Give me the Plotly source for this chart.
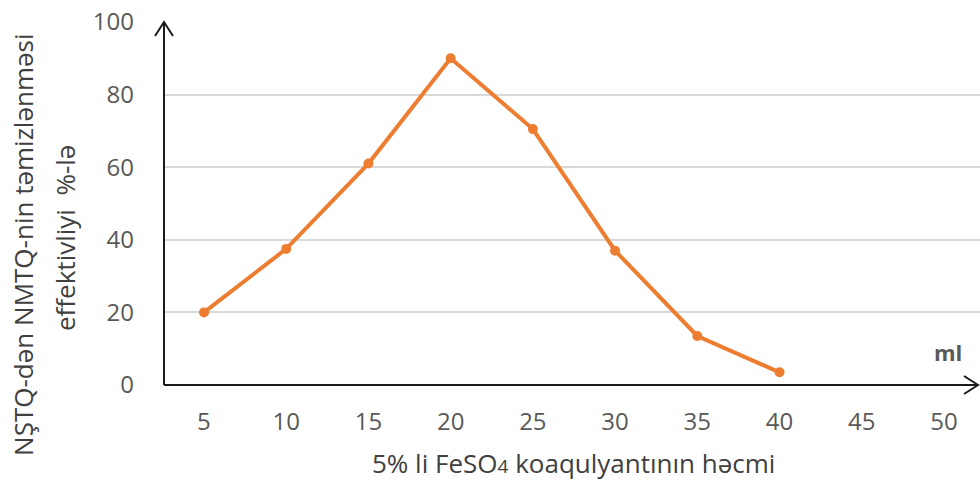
import plotly.graph_objects as go

# Coagulant volume (ml) and cleaning efficiency (%)
volume_ml = [5, 10, 15, 20, 25, 30, 35, 40]
efficiency_pct = [20, 37.5, 61, 90, 70.5, 37, 13.5, 3.5]
x_ticks = [5, 10, 15, 20, 25, 30, 35, 40, 45, 50]
y_ticks = [0, 20, 40, 60, 80, 100]

FONT = "Open Sans"
TICK_COLOR = "#595959"
TITLE_COLOR = "#404040"
ORANGE = "#ED7D31"

fig = go.Figure()
fig.add_trace(go.Scatter(
    x=volume_ml, y=efficiency_pct, mode="lines+markers",
    line=dict(color=ORANGE, width=4),
    marker=dict(color=ORANGE, size=10),
    showlegend=False, hoverinfo="skip",
))

fig.update_layout(
    width=980, height=480,
    margin=dict(l=164, r=0, t=22, b=95),
    paper_bgcolor="white", plot_bgcolor="white",
    font=dict(family=FONT, color=TICK_COLOR),
    xaxis=dict(
        range=[2.57, 52.19], tickvals=x_ticks, ticktext=[str(v) for v in x_ticks],
        showgrid=False, zeroline=False, showline=False, ticks="",
        tickfont=dict(size=24, color=TICK_COLOR), ticklabelstandoff=20,
    ),
    yaxis=dict(
        range=[0, 100], tickvals=y_ticks, showgrid=True, gridcolor="#d9d9d9",
        gridwidth=1.5, zeroline=False, showline=False, ticks="",
        tickfont=dict(size=24, color=TICK_COLOR), ticklabelstandoff=29,
    ),
)

# Axis lines with open arrowheads
axis_line = dict(color="#1a1a1a", width=2)
fig.add_shape(type="line", xref="paper", yref="paper", x0=0, x1=0, y0=0, y1=1, line=axis_line)
fig.add_shape(type="line", xref="paper", yref="paper", x0=0, x1=814 / 816, y0=0, y1=0, line=axis_line)
fig.add_shape(type="path", xref="paper", yref="paper", xsizemode="pixel", ysizemode="pixel",
              xanchor=0, yanchor=1, path="M -9,-14 L 0,0 L 9,-14", line=axis_line)
fig.add_shape(type="path", xref="paper", yref="paper", xsizemode="pixel", ysizemode="pixel",
              xanchor=814 / 816, yanchor=0, path="M -14,9 L 0,0 L -14,-9", line=axis_line)

# Axis titles
fig.add_annotation(
    text="5% li FeSO<span style='font-size:19px'>4</span> koaqulyantının həcmi",
    xref="paper", yref="paper", x=(573 - 164) / 816, y=0, yanchor="middle", yshift=-78,
    showarrow=False, font=dict(size=26, color=TITLE_COLOR),
)
fig.add_annotation(
    text="NŞTQ-dən NMTQ-nin təmizlənməsi", textangle=-90,
    xref="paper", yref="paper", x=0, xshift=-141, y=0.386, yanchor="middle",
    xanchor="center", showarrow=False, font=dict(size=26, color=TITLE_COLOR),
)
fig.add_annotation(
    text="effektivliyi  %-lə", textangle=-90,
    xref="paper", yref="paper", x=0, xshift=-99, y=0.405, yanchor="middle",
    xanchor="center", showarrow=False, font=dict(size=26, color=TITLE_COLOR),
)
fig.add_annotation(
    text="<b>ml</b>", xref="paper", yref="paper", x=(964 - 164) / 816, y=0,
    yanchor="middle", yshift=33,
    showarrow=False, font=dict(size=22, color=TICK_COLOR),
)

fig.write_html("out.html")
